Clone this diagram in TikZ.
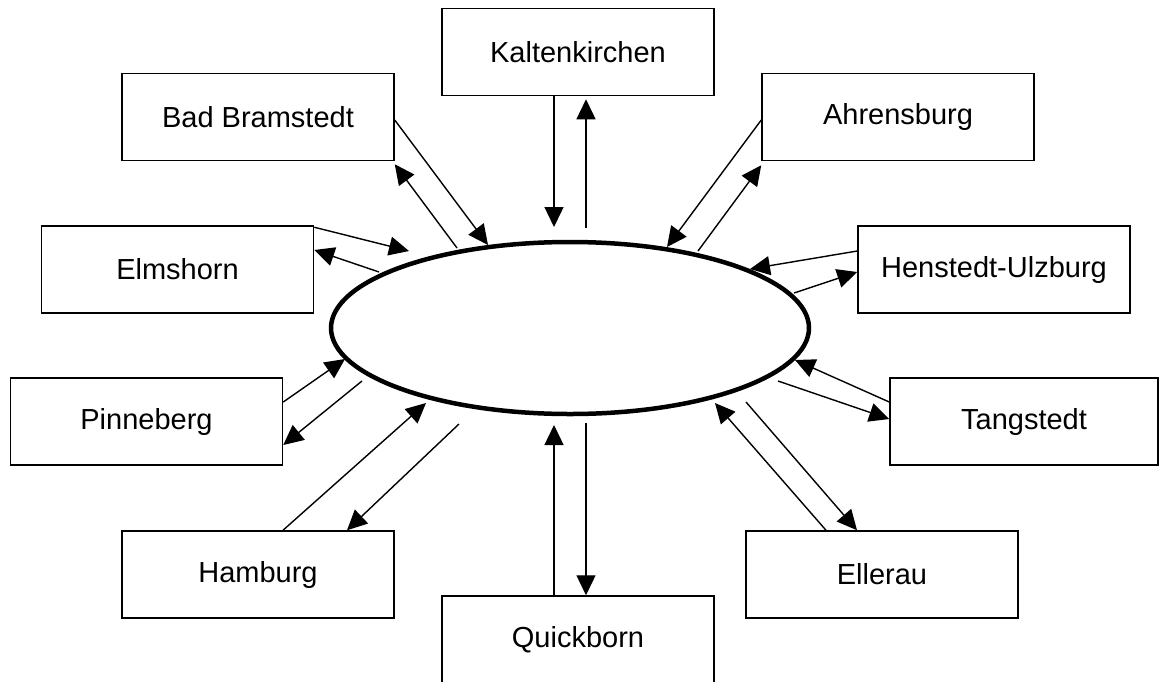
\documentclass[tikz,border=0pt]{standalone}
\usepackage{fontspec}
\setmainfont{Liberation Sans}
\usetikzlibrary{shapes.geometric,arrows.meta}
\begin{document}
\begin{tikzpicture}[x=1pt,y=-1pt,
  town/.style={draw, line width=1.5pt, minimum width=272pt, minimum height=87pt, inner sep=0pt, font=\fontsize{29pt}{34pt}\selectfont},
  arr/.style={line width=1.4pt, -{Triangle[length=20pt,width=19pt]}}]
\useasboundingbox (0,0) rectangle (1160,681);
\node[draw, ellipse, line width=4.5pt, minimum width=478pt, minimum height=172pt, inner sep=0pt] (hub) at (570,328) {};
\node[town] (K) at (578,52) {Kaltenkirchen};
\node[town] (BB) at (258,117) {Bad Bramstedt};
\node[town] (A) at (898,117) {Ahrensburg};
\node[town] (E) at (177.5,269.5) {Elmshorn};
\node[town] (H) at (994,269.5) {Henstedt-Ulzburg};
\node[town] (P) at (146.5,421.5) {Pinneberg};
\node[town, minimum width=268pt] (T) at (1024,421.5) {Tangstedt};
\node[town] (Hb) at (258,574.5) {Hamburg};
\node[town] (El) at (882,574.5) {Ellerau};
\node[town] (Q) at (578,639.5) {Quickborn};
% free ends near the hub
\coordinate (k1) at (554,227);  \coordinate (k2) at (586,228);
\coordinate (b1) at (488,245);  \coordinate (b2) at (457,248);
\coordinate (a1) at (667,247);  \coordinate (a2) at (698,251);
\coordinate (e1) at (409,251);  \coordinate (e2) at (379,272);
\coordinate (h1) at (750,269);  \coordinate (h2) at (794,293);
\coordinate (p1) at (345,359);  \coordinate (p2) at (362,381);
\coordinate (t1) at (795,360);  \coordinate (t2) at (778,381);
\coordinate (hb1) at (426,403); \coordinate (hb2) at (459,424);
\coordinate (el1) at (715,403); \coordinate (el2) at (746,402);
\coordinate (q1) at (554,425);  \coordinate (q2) at (586,423);
% arrows
\draw[arr] ([xshift=-24pt]K.south) -- (k1);
\draw[arr] (k2) -- ([xshift=8pt,yshift=-3pt]K.south);
\draw[arr] ([yshift=-3pt]BB.east) -- (b1);
\draw[arr] (b2) -- ([yshift=-3pt]BB.south east);
\draw[arr] ([yshift=-3pt]A.west) -- (a1);
\draw[arr] (a2) -- ([yshift=-4pt]A.south west);
\draw[arr] ([yshift=-2pt]E.north east) -- (e1);
\draw[arr] (e2) -- ([yshift=19.5pt]E.east);
\draw[arr] ([yshift=18.5pt]H.west) -- (h1);
\draw[arr] (h2) -- ([yshift=-2.5pt]H.west);
\draw[arr] ([yshift=19.5pt]P.east) -- (p1);
\draw[arr] (p2) -- ([yshift=-23.5pt]P.east);
\draw[arr] ([yshift=19.5pt]T.west) -- (t1);
\draw[arr] (t2) -- ([yshift=2.5pt]T.west);
\draw[arr] ([xshift=25pt]Hb.north) -- (hb1);
\draw[arr] (hb2) -- ([xshift=89pt]Hb.north);
\draw[arr] ([xshift=-56pt]El.north) -- (el1);
\draw[arr] (el2) -- ([xshift=-25pt]El.north);
\draw[arr] ([xshift=-24pt]Q.north) -- (q1);
\draw[arr] (q2) -- ([xshift=8pt]Q.north);
\end{tikzpicture}
\end{document}
